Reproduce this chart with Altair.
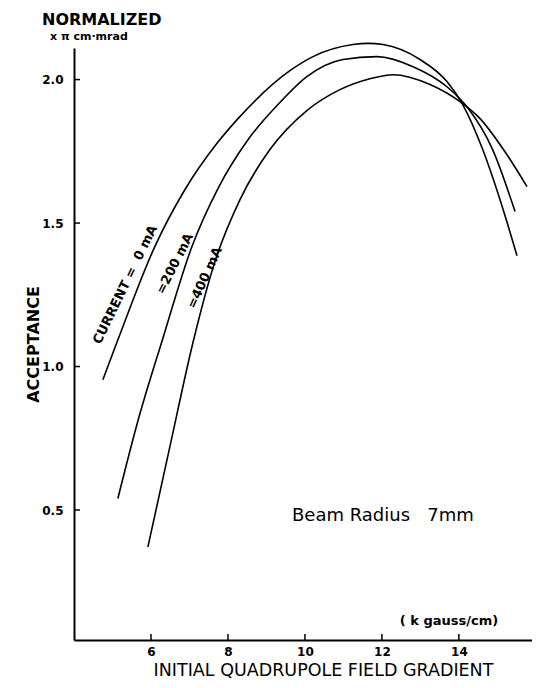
import altair as alt
import pandas as pd

# ---- data ----
grad_0 = [4.75, 5.14, 6.10, 6.88, 7.71, 8.31, 9.61, 10.21, 11.25, 11.64, 12.03, 12.99, 13.69, 14.10, 14.62, 15.07, 15.51]
acc_0 = [0.954, 1.093, 1.418, 1.616, 1.777, 1.871, 2.031, 2.080, 2.122, 2.126, 2.122, 2.070, 1.993, 1.913, 1.756, 1.581, 1.386]

grad_200 = [5.14, 5.66, 6.29, 7.07, 7.74, 8.52, 9.35, 10.05, 10.99, 11.87, 12.81, 13.69, 14.21, 14.88, 15.46]
acc_200 = [0.54, 0.81, 1.09, 1.42, 1.62, 1.79, 1.92, 2.01, 2.07, 2.08, 2.045, 1.975, 1.905, 1.755, 1.54]

grad_400 = [5.92, 6.49, 7.09, 7.66, 8.31, 9.09, 10.05, 10.91, 11.69, 12.29, 13.25, 14.03, 14.55, 15.25, 15.77]
acc_400 = [0.371, 0.720, 1.083, 1.365, 1.581, 1.756, 1.892, 1.965, 2.003, 2.017, 1.983, 1.923, 1.864, 1.738, 1.627]

current_names = ["0 mA", "200 mA", "400 mA"]
label_texts = ["CURRENT =\u00a0\u00a00 mA", "=200 mA", "=400 mA"]
label_grad = [5.33, 6.62, 7.40]
label_acc = [1.285, 1.358, 1.309]
label_angle = [296, 297, 294.5]

x_ticks = [6, 8, 10, 12, 14]
y_ticks = [0.5, 1.0, 1.5, 2.0]

X_DOMAIN = [4, 15.9]
Y_DOMAIN = [0.047, 2.11]

FONT = "DejaVu Sans"
W, H = 458, 592

rows = []
for name, gs, accs in zip(current_names, [grad_0, grad_200, grad_400], [acc_0, acc_200, acc_400]):
    for i, (g, a) in enumerate(zip(gs, accs)):
        rows.append({"grad": g, "acc": a, "current": name, "idx": i})
curves = pd.DataFrame(rows)

labels = pd.DataFrame({"grad": label_grad, "acc": label_acc, "label": label_texts, "angle": label_angle})

xs = alt.Scale(domain=X_DOMAIN, nice=False, zero=False)
ys = alt.Scale(domain=Y_DOMAIN, nice=False, zero=False)

x_axis = alt.Axis(
    values=x_ticks, title="INITIAL QUADRUPOLE FIELD GRADIENT", labelPadding=6,
    titleX=249, titleY=35, titleAlign="center", titleBaseline="alphabetic",
    titleFontSize=17.5, titleFontWeight="normal")
y_axis = alt.Axis(
    values=y_ticks, format=".1f", title="ACCEPTANCE", labelPadding=11,
    titleX=-36, titleY=296, titleAngle=270, titleAlign="center",
    titleBaseline="alphabetic", titleFontSize=16, titleFontWeight="bold")

lines = alt.Chart(curves).mark_line(color="black", strokeWidth=1.6, interpolate="monotone").encode(
    x=alt.X("grad:Q", scale=xs, axis=x_axis),
    y=alt.Y("acc:Q", scale=ys, axis=y_axis),
    detail="current:N",
    order="idx:Q",
)

ytick = alt.Chart(pd.DataFrame({"acc": y_ticks})).mark_rule(color="black", strokeWidth=1.5).encode(
    y=alt.Y("acc:Q", scale=ys, axis=y_axis), x=alt.value(0), x2=alt.value(6))
xtick = alt.Chart(pd.DataFrame({"grad": x_ticks})).mark_rule(color="black", strokeWidth=1.5).encode(
    x=alt.X("grad:Q", scale=xs, axis=x_axis), y=alt.value(H), y2=alt.value(H - 6))

curve_labels = alt.Chart(labels).mark_text(font=FONT, fontSize=13, fontWeight="bold", align="center",
                                           baseline="middle", color="black").encode(
    x=alt.X("grad:Q", scale=xs, axis=x_axis),
    y=alt.Y("acc:Q", scale=ys, axis=y_axis),
    text="label:N",
    angle=alt.Angle("angle:Q", scale=None),
)

one = pd.DataFrame({"k": [0]})

def note(text, x, y, size, weight="normal", align="left"):
    return alt.Chart(one).mark_text(text=text, font=FONT, fontSize=size, fontWeight=weight,
                                    align=align, baseline="alphabetic", color="black").encode(
        x=alt.value(x), y=alt.value(y))

notes = [
    note("NORMALIZED", -32, -23, 16, "bold"),
    note("x π cm·mrad", -24, -8, 11, "bold"),
    note("( k gauss/cm)", 375, 577, 13, "bold", "center"),
    note("Beam Radius\u00a0\u00a0\u00a07mm", 218, 473, 18),
]

chart = alt.layer(lines, ytick, xtick, curve_labels, *notes).properties(
    width=W, height=H,
    autosize=alt.AutoSizeParams(type="none"),
    padding={"left": 66, "top": 40, "right": 0, "bottom": 40},
).configure_view(stroke=None).configure_axis(
    domainColor="black", domainWidth=2, ticks=False, grid=False,
    labelFont=FONT, labelFontSize=12, labelFontWeight="bold", labelColor="black",
    titleFont=FONT, titleColor="black",
)

chart.save("out.html", embed_options={"renderer": "svg", "actions": False})
